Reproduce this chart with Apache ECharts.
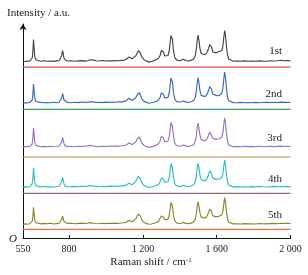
<!DOCTYPE html>
<html>
<head>
<meta charset="utf-8">
<script src="https://cdn.jsdelivr.net/npm/echarts@6/dist/echarts.min.js"></script>
<style>html,body{margin:0;padding:0;background:#fff}#c{width:308px;height:275px}</style>
</head>
<body>
<div id="c"></div>
<script>
// Raman shift (cm-1) sampling points shared by all spectra
const wavenumbers = [
  550, 562, 574, 586, 595, 600, 604, 607, 610, 614,
  620, 630, 645, 662, 680, 698, 716, 732, 746, 755,
  760, 764, 768, 772, 780, 792, 810, 830, 850, 870,
  888, 903, 914, 922, 931, 946, 962, 980, 998, 1016,
  1034, 1052, 1068, 1084, 1098, 1110, 1118, 1124, 1131, 1142,
  1152, 1161, 1169, 1175, 1180, 1186, 1194, 1206, 1220, 1233,
  1246, 1259, 1272, 1284, 1293, 1300, 1305, 1311, 1318, 1327,
  1336, 1343, 1348, 1352, 1356, 1360, 1365, 1372, 1382, 1396,
  1408, 1419, 1428, 1440, 1452, 1464, 1475, 1484, 1490, 1495,
  1499, 1504, 1509, 1516, 1526, 1537, 1547, 1556, 1562, 1567,
  1572, 1579, 1588, 1596, 1605, 1612, 1620, 1628, 1634, 1639,
  1643, 1647, 1652, 1658, 1665, 1675, 1690, 1710, 1730, 1750,
  1770, 1790, 1810, 1830, 1850, 1870, 1890, 1910, 1930, 1950,
  1965, 1980, 2000
];
// Intensities (a.u., relative to each spectrum's own baseline)
const spectrum1st = [
  0.2, 0.0, 0.4, 0.3, 0.9, 3.5, 11, 22, 14, 5,
  1.8, 0.6, 0.3, 0.7, 0.2, 0.5, 0.1, 0.6, 0.9, 2.5,
  6, 11, 8, 3.5, 1.2, 0.5, 0.8, 0.3, 0.6, 0.9,
  0.4, 1.0, 1.7, 2.0, 1.4, 0.8, 0.5, 1.0, 0.5, 0.8,
  0.6, 1.0, 0.7, 1.1, 1.4, 2.2, 3.4, 4.5, 3.0, 2.7,
  3.6, 5.6, 8.6, 10.8, 11, 8.5, 4.5, 1.8, 0.4, -0.6,
  0.0, 0.9, 1.8, 3.2, 6, 11, 12.5, 9.5, 5.5, 4.8,
  6, 11, 19.5, 26, 28, 22, 12, 4.5, 1.6, 0.8,
  1.2, 2.2, 0.9, 0.5, 0.9, 1.4, 2.6, 6, 13, 22,
  26.5, 21, 13, 8, 6.2, 6.8, 9, 13, 17, 18,
  14.5, 9.5, 8, 8.6, 9.6, 10, 9.2, 10.8, 16, 25,
  31, 27, 17, 7, 2.5, 0.8, 0.3, 0.5, 0.2, 0.6,
  0.3, 0.5, 0.2, 0.6, 0.4, 0.3, 0.7, 0.5, 0.8, 1.2,
  0.7, 1.0, 0.6
];
const spectrum2nd = [
  0.0, 0.3, 0.1, 0.5, 0.8, 3, 9.5, 19, 12, 4.2,
  1.5, 0.4, 0.6, 0.2, 0.5, 0.3, 0.7, 0.2, 0.8, 2.2,
  5.2, 9.5, 7, 3, 1.0, 0.6, 0.3, 0.7, 0.4, 1.0,
  0.6, 0.9, 1.3, 1.5, 1.1, 0.5, 0.8, 0.4, 0.9, 0.6,
  1.0, 0.7, 1.2, 0.9, 1.6, 2.4, 3.6, 4.7, 3.2, 2.5,
  3.3, 5.2, 8.2, 10.2, 10.5, 8, 4.2, 1.6, 0.6, -0.3,
  0.2, 0.8, 1.6, 3.0, 5.5, 10, 11.5, 8.8, 5, 4.4,
  5.6, 10.5, 18.5, 25, 27, 21, 11.5, 4.2, 1.4, 1.0,
  1.3, 2.0, 1.1, 0.6, 0.8, 1.5, 2.4, 5.6, 12.5, 21,
  25.5, 20, 12.5, 7.6, 5.8, 6.4, 8.6, 12.4, 16.3, 17.3,
  13.8, 9, 7.3, 7.6, 7.4, 7.2, 7.8, 10, 15.5, 24.5,
  31, 26.5, 16.5, 6.5, 2.2, 0.6, 0.4, 0.2, 0.6, 0.3,
  0.5, 0.2, 0.6, 0.3, 0.5, 0.7, 0.4, 0.8, 0.5, 0.9,
  0.6, 0.8, 0.4
];
const spectrum3rd = [
  0.4, 0.1, 0.5, 0.2, 0.9, 3.2, 9.8, 19.3, 12.2, 4.4,
  1.6, 0.5, 0.2, 0.6, 0.3, 0.7, 0.2, 0.5, 1.0, 2.4,
  5.4, 9.5, 7.2, 3.2, 1.1, 0.4, 0.7, 0.2, 0.8, 0.5,
  0.9, 1.2, 1.6, 1.5, 1.0, 0.6, 0.3, 0.8, 0.5, 1.0,
  0.7, 1.1, 0.8, 1.3, 1.5, 2.0, 3.0, 4.0, 2.8, 2.4,
  3.2, 5.0, 7.8, 9.6, 10, 7.8, 4.0, 1.5, 0.5, -0.4,
  0.1, 0.9, 1.9, 3.3, 6, 10.5, 12, 9.2, 5.4, 4.6,
  5.8, 10.6, 18.4, 24.5, 26.5, 20.5, 11.5, 4.3, 1.5, 0.7,
  1.0, 2.0, 0.8, 0.6, 0.9, 1.3, 2.3, 5.4, 12, 20,
  24, 19, 12, 7.4, 5.6, 6.0, 8.2, 11.8, 15, 16,
  13, 8.8, 7, 7.6, 8.4, 8, 7.8, 9.8, 14.5, 23.5,
  29, 25, 15.5, 6.2, 2.0, 0.7, 0.2, 0.6, 0.3, 0.7,
  0.4, 0.6, 0.3, 0.7, 0.2, 0.5, 0.8, 0.4, 0.6, 0.9,
  0.5, 0.8, 0.5
];
const spectrum4th = [
  0.1, 0.4, 0.2, 0.6, 1.0, 3.4, 10, 19.6, 12.5, 4.5,
  1.7, 0.6, 0.3, 0.8, 0.4, 0.6, 0.3, 0.8, 1.1, 2.6,
  5.8, 10, 7.5, 3.3, 1.2, 0.7, 0.5, 0.9, 0.6, 1.1,
  0.8, 1.4, 1.8, 1.6, 1.2, 0.9, 0.6, 1.0, 0.7, 1.2,
  0.9, 1.3, 1.0, 1.4, 1.7, 2.2, 3.1, 4.0, 2.9, 2.6,
  3.6, 5.8, 8.8, 11, 11.3, 8.8, 4.6, 1.8, 0.7, -0.2,
  0.3, 1.0, 1.8, 3.0, 5.4, 9.4, 10.6, 8.2, 5, 4.4,
  5.6, 10, 17.5, 23.5, 25, 19.5, 10.8, 4.0, 1.5, 0.9,
  1.2, 2.0, 1.0, 0.7, 1.0, 1.5, 2.5, 5.5, 12, 20,
  24, 19.2, 12.2, 7.6, 5.8, 6.4, 8.8, 12.6, 16.4, 17.3,
  14, 9.2, 7.3, 7.8, 8.6, 8.2, 8.0, 9.8, 14, 22,
  27.3, 23.5, 14.5, 6, 2.0, 0.8, 0.4, 0.7, 0.3, 0.6,
  0.3, 0.7, 0.4, 0.8, 0.5, 0.3, 0.6, 0.9, 0.5, 0.8,
  0.6, 0.9, 0.5
];
const spectrum5th = [
  0.3, 0.6, 0.2, 0.8, 1.2, 3.2, 9, 17.2, 11, 4.2,
  1.8, 1.0, 0.6, 1.1, 0.7, 1.2, 0.5, 0.9, 1.2, 2.6,
  5.2, 8.5, 6.5, 3.0, 1.4, 0.9, 1.3, 0.8, 1.1, 1.4,
  1.0, 1.5, 1.9, 1.8, 1.3, 1.0, 0.8, 1.2, 0.9, 1.3,
  1.1, 1.4, 1.0, 1.5, 1.8, 2.4, 3.2, 4.0, 3.0, 2.7,
  3.6, 5.6, 8.5, 10.6, 11, 8.6, 4.6, 2.0, 0.9, 0.2,
  0.5, 1.2, 2.0, 3.0, 5.0, 8.5, 9.5, 7.5, 4.8, 4.3,
  5.4, 9.5, 16.5, 22, 23.5, 18.5, 10.2, 4.0, 1.6, 1.0,
  1.3, 2.1, 1.2, 0.8, 1.1, 1.6, 2.6, 5.4, 11.5, 19,
  22.8, 18.2, 11.6, 7.4, 5.8, 6.2, 8.4, 12, 15.4, 16.2,
  13.2, 8.8, 7, 7.6, 8.4, 8.2, 8.0, 9.8, 14, 21.5,
  26.8, 23, 14.2, 6, 2.2, 1.0, 0.6, 0.8, 0.5, 0.9,
  0.6, 0.8, 0.5, 0.9, 0.7, 0.6, 0.9, 1.1, 0.8, 1.3,
  1.0, 1.3, 0.9
];
const cycleNames = ['1st', '2nd', '3rd', '4th', '5th'];
// vertical stacking offsets of each spectrum and of its blank (reference) trace, a.u.
const spectrumOffsets = [176.5, 135, 91, 50.7, 13.5];
const blankLevels = [170.8, 128.7, 81, 44.7, 8.7];
const xTickValues = [800, 1200, 1600, 2000];
const xLabelValues = [550, 800, 1200, 1600, 2000];

const spectrumColors = ['#444444', '#3568c2', '#9570c4', '#26c0bf', '#87852c'];
const blankColors = ['#e5484a', '#3aa86c', '#c8913c', '#8e6c6c', '#f06a3c'];
const FONT = "'Liberation Serif', 'Times New Roman', serif";

const spectra = [spectrum1st, spectrum2nd, spectrum3rd, spectrum4th, spectrum5th];
const series = [];
spectra.forEach((s, k) => {
  series.push({
    type: 'line', name: cycleNames[k], showSymbol: false, silent: true,
    data: wavenumbers.map((w, i) => [w, spectrumOffsets[k] + s[i]]),
    lineStyle: { width: 1.15, color: spectrumColors[k] }, itemStyle: { color: spectrumColors[k] },
    z: 3
  });
  series.push({
    type: 'line', showSymbol: false, silent: true,
    data: [[550, blankLevels[k]], [2000, blankLevels[k]]],
    lineStyle: { width: 1.2, color: blankColors[k] }, z: 2
  });
});
const labelY = [51, 94, 138.5, 179, 215];
const graphics = cycleNames.map((n, k) => ({
  type: 'text', x: 282, y: labelY[k],
  style: { text: n, font: '11px ' + FONT, fill: '#222', align: 'right', verticalAlign: 'middle' }
}));
graphics.push({
  type: 'text', x: 7, y: 13,
  style: { text: 'Intensity / a.u.', font: '11px ' + FONT, fill: '#222', align: 'left', verticalAlign: 'middle' }
});
graphics.push({
  type: 'text', x: 13, y: 239,
  style: { text: 'O', font: 'italic 11px ' + FONT, fill: '#222', align: 'center', verticalAlign: 'middle' }
});
graphics.push({
  type: 'text', x: 151, y: 262,
  style: {
    text: 'Raman shift / cm{s|-1}', font: '11px ' + FONT, fill: '#222', align: 'center', verticalAlign: 'middle',
    rich: { s: { fontSize: 7, fontFamily: FONT, verticalAlign: 'top', fill: '#222' } }
  }
});

const chart = echarts.init(document.getElementById('c'), null, { renderer: 'canvas' });
chart.setOption({
  animation: false,
  backgroundColor: '#fff',
  grid: { left: 23, right: 17.5, top: 24, bottom: 37 },
  xAxis: {
    type: 'value', min: 550, max: 2000,
    splitLine: { show: false },
    axisLine: { show: true, onZero: false, lineStyle: { color: '#111', width: 1 } },
    axisTick: { show: true, inside: true, length: 3, customValues: xTickValues, lineStyle: { color: '#111' } },
    axisLabel: {
      customValues: xLabelValues, margin: 6, color: '#222', fontFamily: FONT, fontSize: 10,
      formatter: v => v >= 1000 ? String(v).replace(/(\d)(\d{3})$/, '$1 $2') : String(v)
    }
  },
  yAxis: {
    type: 'value', min: 0, max: 214,
    splitLine: { show: false },
    axisLine: { show: true, onZero: false, symbol: ['none', 'arrow'], symbolSize: [5.5, 6], lineStyle: { color: '#111', width: 1 } },
    axisTick: { show: false }, axisLabel: { show: false }
  },
  series: series,
  graphic: graphics
});
</script>
</body>
</html>
